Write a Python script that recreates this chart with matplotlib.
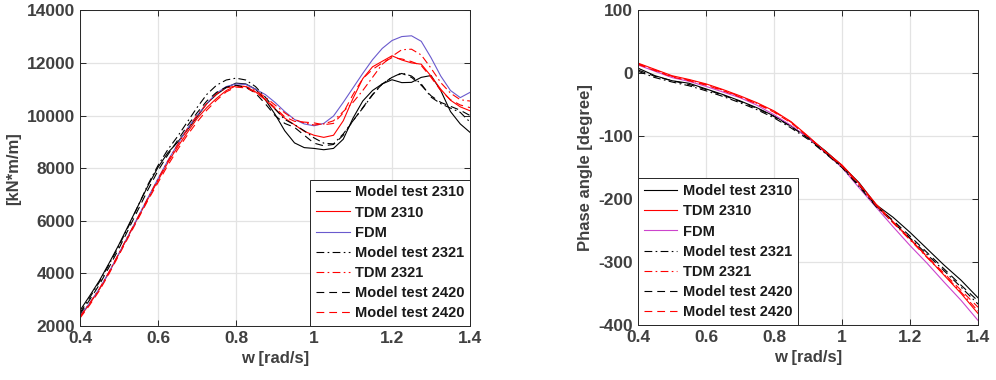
''' momento y ángulo de fase vs frecuencia '''
import numpy as np
import matplotlib
matplotlib.use('Agg')
import matplotlib.pyplot as plt

# frecuencias (rad/s)
w = [0.400, 0.425, 0.450, 0.475, 0.500, 0.525, 0.550, 0.575, 0.600, 0.625,
     0.650, 0.675, 0.700, 0.725, 0.750, 0.775, 0.800, 0.825, 0.850, 0.875,
     0.900, 0.925, 0.950, 0.975, 1.000, 1.025, 1.050, 1.075, 1.100, 1.125,
     1.150, 1.175, 1.200, 1.225, 1.250, 1.275, 1.300, 1.325, 1.350, 1.375,
     1.400]

# amplitud [kN*m/m]
mt2310 = [2590, 3150, 3730, 4400, 5100, 5850, 6600, 7350, 8030, 8580,
          8980, 9450, 9950, 10450, 10800, 11060, 11230, 11200, 11000, 10600,
          10050, 9420, 8960, 8780, 8750, 8700, 8750, 9100, 9900, 10550,
          10950, 11200, 11360, 11250, 11260, 11450, 11520, 10950, 10150, 9680,
          9360]
tdm2310 = [2340, 2850, 3400, 4050, 4750, 5450, 6150, 6850, 7530, 8200,
           8800, 9350, 9880, 10300, 10650, 10950, 11130, 11100, 10900, 10600,
           10250, 9900, 9650, 9400, 9250, 9170, 9250, 9800, 10650, 11400,
           11850, 12060, 12270, 12110, 12000, 11950, 11500, 11000, 10580, 10330,
           10180]
fdm = [2380, 2880, 3420, 4060, 4760, 5460, 6180, 6900, 7600, 8280,
       8900, 9500, 10000, 10450, 10850, 11100, 11200, 11180, 11000, 10800,
       10500, 10150, 9850, 9680, 9610, 9700, 9980, 10500, 11050, 11600,
       12120, 12550, 12850, 13000, 13030, 12820, 12200, 11500, 10950, 10680,
       10880]
mt2321 = [2500, 3080, 3680, 4350, 5050, 5800, 6600, 7400, 8100, 8700,
          9200, 9750, 10300, 10800, 11150, 11350, 11420, 11350, 11100, 10700,
          10250, 9850, 9650, 9420, 9150, 8950, 8920, 9300, 9800, 10280,
          10780, 11200, 11450, 11620, 11500, 11200, 10700, 10450, 10280, 10120,
          9750]
tdm2321 = [2360, 2870, 3420, 4070, 4770, 5470, 6170, 6880, 7580, 8260,
           8880, 9480, 10000, 10450, 10820, 11050, 11120, 11100, 10950, 10700,
           10400, 10100, 9850, 9720, 9640, 9680, 9800, 10150, 10500, 10950,
           11450, 11950, 12250, 12500, 12520, 12300, 11800, 11250, 10850, 10600,
           10550]
mt2420 = [2450, 3000, 3580, 4250, 4950, 5700, 6450, 7200, 7900, 8500,
          9050, 9600, 10100, 10550, 10880, 11080, 11150, 11080, 10850, 10450,
          10000, 9700, 9550, 9250, 8950, 8850, 8900, 9250, 9800, 10300,
          10800, 11200, 11450, 11600, 11450, 11150, 10750, 10500, 10350, 10200,
          10000]
mt2420r = [2300, 2800, 3350, 4000, 4700, 5400, 6100, 6800, 7450, 8100,
           8700, 9250, 9750, 10200, 10580, 10900, 11080, 11050, 10880, 10620,
           10300, 9950, 9780, 9750, 9720, 9650, 9700, 10100, 10800, 11400,
           11750, 12000, 12200, 12150, 12050, 11900, 11450, 10950, 10600, 10400,
           10300]

# fase [grados]
wf = [0.40, 0.45, 0.50, 0.55, 0.60, 0.65, 0.70, 0.75, 0.80, 0.85, 0.90,
      0.95, 1.00, 1.05, 1.10, 1.15, 1.20, 1.25, 1.30, 1.35, 1.40]
f_mt2310 = [8, -4, -12, -16, -25, -34, -44, -55, -68, -84, -102,
            -123, -147, -174, -209, -229, -253, -279, -305, -329, -357]
f_tdm2310 = [16, 6, -4, -10, -17, -26, -36, -47, -60, -77, -100,
             -124, -146, -175, -208, -236, -263, -292, -321, -350, -382]
f_fdm = [13, 3, -7, -13, -21, -30, -39, -51, -66, -83, -103,
         -126, -150, -182, -213, -244, -274, -302, -332, -361, -393]
f_mt2321 = [3, -7, -14, -20, -28, -37, -47, -58, -71, -87, -105,
            -127, -150, -180, -212, -237, -262, -288, -314, -340, -367]
f_tdm2321 = [15, 5, -5, -11, -18, -27, -37, -48, -61, -78, -101,
             -125, -147, -177, -210, -238, -265, -293, -320, -348, -378]
f_mt2420 = [5, -5, -12, -18, -26, -35, -45, -56, -69, -85, -103,
            -126, -149, -178, -211, -234, -259, -285, -311, -337, -362]
f_mt2420r = [14, 4, -6, -12, -19, -28, -38, -49, -62, -79, -101,
             -125, -148, -177, -210, -237, -264, -291, -318, -345, -372]

labels = ['Model test 2310', 'TDM 2310', 'FDM', 'Model test 2321',
          'TDM 2321', 'Model test 2420', 'Model test 2420']

plt.rcParams['font.family'] = ['Liberation Sans', 'DejaVu Sans']
plt.rcParams['font.weight'] = 'bold'
plt.rcParams['axes.unicode_minus'] = False

GRIS = '#404040'
RAYA = (0, (7, 4.5))
RAYAPUNTO = (0, (7, 3, 1.5, 3))


def estilo(ax):
    ax.grid(True, color='#e3e3e3', linewidth=0.9)
    ax.set_axisbelow(True)
    ax.tick_params(direction='in', top=True, right=True, length=4,
                   labelsize=12.5, colors='#262626', labelcolor=GRIS, width=0.7)
    for s in ax.spines.values():
        s.set_color('#262626')
        s.set_linewidth(0.7)
    for t in ax.get_xticklabels() + ax.get_yticklabels():
        t.set_fontweight('bold')


def leyenda(ax, loc):
    lg = ax.legend(loc=loc, fontsize=10.5, borderaxespad=0, handlelength=2.3,
                   labelspacing=0.42, fancybox=False, framealpha=1,
                   edgecolor='#262626', borderpad=0.4, handletextpad=0.35)
    lg.get_frame().set_linewidth(0.7)
    for t in lg.get_texts():
        t.set_fontweight('bold')
        t.set_color('#1a1a1a')


fig = plt.figure(figsize=(9.96, 3.8), dpi=100)
ax1 = fig.add_axes([0.0803, 0.142, 0.3916, 0.831])
ax2 = fig.add_axes([0.6406, 0.145, 0.3414, 0.828])

lw = 0.8
ax1.plot(w, mt2310, color='black', lw=lw, label=labels[0])
ax1.plot(w, tdm2310, color='red', lw=lw, label=labels[1])
ax1.plot(w, fdm, color='#6a5acd', lw=lw, label=labels[2])
ax1.plot(w, mt2321, color='black', lw=lw, ls=RAYAPUNTO, label=labels[3])
ax1.plot(w, tdm2321, color='red', lw=lw, ls=RAYAPUNTO, label=labels[4])
ax1.plot(w, mt2420, color='black', lw=lw, ls=RAYA, label=labels[5])
ax1.plot(w, mt2420r, color='red', lw=lw, ls=RAYA, label=labels[6])
ax1.set_xlim(0.4, 1.4)
ax1.set_ylim(2000, 14000)
ax1.set_xticks([0.4, 0.6, 0.8, 1.0, 1.2, 1.4])
ax1.set_xticklabels(['0.4', '0.6', '0.8', '1', '1.2', '1.4'])
ax1.set_yticks(np.arange(2000, 14001, 2000))
ax1.set_xlabel('w [rad/s]', fontsize=12, color=GRIS, fontweight='bold')
ax1.set_ylabel('[kN*m/m]', fontsize=12, color=GRIS, fontweight='bold')
estilo(ax1)
leyenda(ax1, 'lower right')

ax2.plot(wf, f_mt2310, color='black', lw=lw, label=labels[0])
ax2.plot(wf, f_tdm2310, color='red', lw=lw, label=labels[1])
ax2.plot(wf, f_fdm, color='#cc44cc', lw=lw, label=labels[2])
ax2.plot(wf, f_mt2321, color='black', lw=lw, ls=RAYAPUNTO, label=labels[3])
ax2.plot(wf, f_tdm2321, color='red', lw=lw, ls=RAYAPUNTO, label=labels[4])
ax2.plot(wf, f_mt2420, color='black', lw=lw, ls=RAYA, label=labels[5])
ax2.plot(wf, f_mt2420r, color='red', lw=lw, ls=RAYA, label=labels[6])
ax2.set_xlim(0.4, 1.4)
ax2.set_ylim(-400, 100)
ax2.set_xticks([0.4, 0.6, 0.8, 1.0, 1.2, 1.4])
ax2.set_xticklabels(['0.4', '0.6', '0.8', '1', '1.2', '1.4'])
ax2.set_yticks(np.arange(-400, 101, 100))
ax2.set_xlabel('w [rad/s]', fontsize=12, color=GRIS, fontweight='bold')
ax2.set_ylabel('Phase angle [degree]', fontsize=12, color=GRIS, fontweight='bold')
estilo(ax2)
leyenda(ax2, 'lower left')

fig.savefig('out.png', dpi=100)
